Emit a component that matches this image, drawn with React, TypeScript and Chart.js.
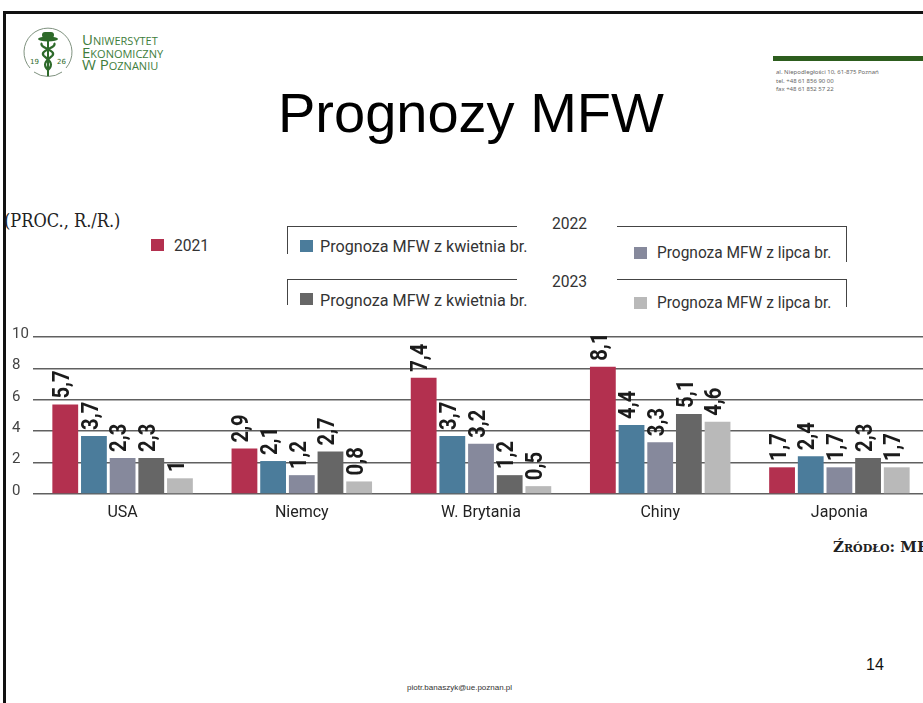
import React, { useEffect, useRef } from "react";
import { Chart, registerables } from "chart.js";

Chart.register(...registerables);

// ---- data ----
const categories = ["USA", "Niemcy", "W. Brytania", "Chiny", "Japonia"];
const seriesNames = [
  "2021",
  "2022 – Prognoza MFW z kwietnia br.",
  "2022 – Prognoza MFW z lipca br.",
  "2023 – Prognoza MFW z kwietnia br.",
  "2023 – Prognoza MFW z lipca br.",
];
const values2021 = [5.7, 2.9, 7.4, 8.1, 1.7];
const values2022Apr = [3.7, 2.1, 3.7, 4.4, 2.4];
const values2022Jul = [2.3, 1.2, 3.2, 3.3, 1.7];
const values2023Apr = [2.3, 2.7, 1.2, 5.1, 2.3];
const values2023Jul = [1, 0.8, 0.5, 4.6, 1.7];
const seriesColors = ["#b3304f", "#4b7c9b", "#86899c", "#666666", "#b9b9b9"];
const yTicks = [0, 2, 4, 6, 8, 10];
const legendYears = ["2022", "2023"];
const legendItemLabels = ["Prognoza MFW z kwietnia br.", "Prognoza MFW z lipca br."];
const firstLegendLabel = "2021";
const unitLabel = "(PROC., R./R.)";
const sourceLabel = "Źródło: MFW";
const titleText = "Prognozy MFW";
const uniLines = ["Uniwersytet", "Ekonomiczny", "W Poznaniu"];
const addressLines = [
  "al. Niepodległości 10, 61-875 Poznań",
  "tel. +48 61 856 90 00",
  "fax +48 61 852 57 22",
];
const footerEmail = "piotr.banaszyk@ue.poznan.pl";
const pageNumber = "14";

const allSeries = [values2021, values2022Apr, values2022Jul, values2023Apr, values2023Jul];

const barLabelsPlugin = {
  id: "barLabels",
  afterDatasetsDraw(chart: any) {
    const ctx = chart.ctx;
    chart.data.datasets.forEach((ds: any, di: number) => {
      const meta = chart.getDatasetMeta(di);
      meta.data.forEach((el: any, i: number) => {
        const v = ds.data[i];
        const txt = String(v).replace(".", ",");
        ctx.save();
        ctx.translate(el.x - 2, el.y - 6);
        ctx.rotate(-Math.PI / 2);
        ctx.scale(0.88, 1);
        ctx.font = "bold 23px Roboto, 'DejaVu Sans', sans-serif";
        ctx.fillStyle = "#1b1b1b";
        ctx.textAlign = "left";
        ctx.textBaseline = "middle";
        ctx.fillText(txt, 0, 0);
        ctx.restore();
      });
    });
  },
};

const yLabelsPlugin = {
  id: "yLabelsLeft",
  afterDraw(chart: any) {
    const ctx = chart.ctx;
    const ys = chart.scales.y;
    ctx.save();
    ctx.font = "15px Roboto, 'DejaVu Sans', sans-serif";
    ctx.fillStyle = "#444";
    ctx.textAlign = "left";
    ctx.textBaseline = "middle";
    yTicks.forEach((v) => {
      ctx.fillText(String(v), 12, ys.getPixelForValue(v) - 3);
    });
    ctx.restore();
  },
};

const CHART_TOP = 320;
const CANVAS_H = 215;
const CANVAS_W = 930;

function BarChart() {
  const ref = useRef<HTMLCanvasElement | null>(null);
  useEffect(() => {
    if (!ref.current) return;
    const chart = new Chart(ref.current, {
      type: "bar",
      data: {
        labels: categories,
        datasets: allSeries.map((vals, i) => ({
          label: seriesNames[i],
          data: vals,
          backgroundColor: seriesColors[i],
          borderWidth: 0,
          categoryPercentage: 0.8,
          barPercentage: 0.9,
        })),
      },
      options: {
        responsive: false,
        animation: false,
        devicePixelRatio: 1,
        layout: { padding: { left: 0, top: 17, right: 1, bottom: 0 } },
        plugins: {
          legend: { display: false },
          tooltip: { enabled: false },
          title: { display: false },
        },
        scales: {
          x: {
            grid: { display: false, drawTicks: false },
            border: { display: false },
            ticks: {
              color: "#222",
              padding: 9,
              maxRotation: 0,
              font: { family: "Roboto, 'DejaVu Sans', sans-serif", size: 16 },
            },
            afterFit: (s: any) => {
              s.height = 41;
            },
          },
          y: {
            min: 0,
            max: 10,
            grid: { color: "#606060", lineWidth: 1.5, drawTicks: false },
            border: { display: false },
            ticks: { display: false, stepSize: 2 },
            afterFit: (s: any) => {
              s.width = 33;
            },
          },
        },
      },
      plugins: [barLabelsPlugin, yLabelsPlugin],
    } as any);
    return () => chart.destroy();
  }, []);
  return (
    <canvas
      ref={ref}
      width={CANVAS_W}
      height={CANVAS_H}
      style={{ width: CANVAS_W, height: CANVAS_H, display: "block" }}
    />
  );
}

const abs = (o: React.CSSProperties): React.CSSProperties => ({ position: "absolute", ...o });

const legendFont: React.CSSProperties = {
  fontFamily: "Roboto, 'DejaVu Sans', sans-serif",
  fontSize: 17,
  color: "#333",
  whiteSpace: "nowrap",
  lineHeight: "20px",
  height: 20,
  transformOrigin: "left center",
};

function LegendText({ x, cy, text, sx }: { x: number; cy: number; text: string; sx?: number }) {
  return (
    <div style={abs({ left: x, top: cy - 10, ...legendFont, transform: `scaleX(${sx ?? 0.92})` })}>
      {text}
    </div>
  );
}
function Swatch({ x, y, color }: { x: number; y: number; color: string }) {
  return <div style={abs({ left: x, top: y, width: 13, height: 12, background: color })} />;
}
function HLine({ x1, x2, y }: { x1: number; x2: number; y: number }) {
  return <div style={abs({ left: x1, top: y, width: x2 - x1, height: 1.3, background: "#444" })} />;
}
function VLine({ x, y1, y2 }: { x: number; y1: number; y2: number }) {
  return <div style={abs({ left: x, top: y1, width: 1.3, height: y2 - y1, background: "#444" })} />;
}

function Bracket({ top, year, leftBottom, rightBottom, colorA, colorB, sqA, sqB, cyA, cyB, yearCy }: any) {
  return (
    <>
      <HLine x1={287} x2={517} y={top} />
      <VLine x={287} y1={top} y2={leftBottom} />
      <LegendText x={552} cy={yearCy} text={year} sx={0.92} />
      <HLine x1={617} x2={847} y={top} />
      <VLine x={846} y1={top} y2={rightBottom} />
      <Swatch x={300} y={sqA} color={colorA} />
      <LegendText x={320} cy={cyA} text={legendItemLabels[0]} sx={0.95} />
      <Swatch x={634} y={sqB} color={colorB} />
      <LegendText x={657} cy={cyB} text={legendItemLabels[1]} sx={0.91} />
    </>
  );
}

function Logo() {
  return (
    <svg style={abs({ left: 20, top: 24 })} width={56} height={56} viewBox="0 0 56 56">
      <path d="M 10 44 A 24 24 0 1 1 46 44" fill="none" stroke="#7f927f" strokeWidth={1} />
      <path d="M 14 48 A 24 24 0 0 0 42 48" fill="none" stroke="#7f927f" strokeWidth={1} />
      <ellipse cx={28} cy={15} rx={10} ry={2.5} fill="#2e6a2a" />
      <rect x={22} y={8} width={12} height={6} rx={3} fill="#2e6a2a" />
      <line x1={28} y1={15} x2={28} y2={52} stroke="#2e6a2a" strokeWidth={2} />
      <path
        d="M 22 19 C 18 24, 38 26, 32 32 C 26 37, 22 40, 28 46"
        fill="none"
        stroke="#2e6a2a"
        strokeWidth={2.2}
      />
      <path
        d="M 34 19 C 38 24, 18 26, 24 32 C 30 37, 34 40, 28 46"
        fill="none"
        stroke="#2e6a2a"
        strokeWidth={2.2}
      />
      <text x={10} y={40} fontSize={7} fill="#2e6a2a" fontFamily="'DejaVu Sans', sans-serif">
        19
      </text>
      <text x={37} y={40} fontSize={7} fill="#2e6a2a" fontFamily="'DejaVu Sans', sans-serif">
        26
      </text>
    </svg>
  );
}

export default function App() {
  return (
    <div
      style={{
        position: "absolute",
        left: 0,
        top: 0,
        width: 923,
        height: 703,
        overflow: "hidden",
        background: "#fff",
      }}
    >
      {/* slide borders */}
      <div style={abs({ left: 3, top: 11, width: 920, height: 3, background: "#111" })} />
      <div style={abs({ left: 3, top: 11, width: 3, height: 692, background: "#111" })} />

      {/* logo */}
      <Logo />
      {uniLines.map((t, i) => (
        <div
          key={t}
          style={abs({
            left: 82,
            top: 31 + i * 12.5,
            fontFamily: "'Open Sans', 'DejaVu Sans', sans-serif",
            fontSize: 15,
            lineHeight: "16px",
            fontVariant: "small-caps",
            color: "#3e7d3c",
            whiteSpace: "nowrap",
          })}
        >
          {t}
        </div>
      ))}

      {/* top-right band and address */}
      <div style={abs({ left: 773, top: 56, width: 150, height: 5, background: "#2d5d1e" })} />
      {addressLines.map((t, i) => (
        <div
          key={t}
          style={abs({
            left: 776,
            top: 68 + i * 8.5,
            fontFamily: "'Noto Sans', sans-serif",
            fontSize: 6,
            lineHeight: "8px",
            color: "#666",
            whiteSpace: "nowrap",
          })}
        >
          {t}
        </div>
      ))}

      {/* title */}
      <div
        style={abs({
          left: 278,
          top: 85,
          fontFamily: "'Liberation Sans', Arial, sans-serif",
          fontSize: 56,
          lineHeight: "56px",
          color: "#000",
          whiteSpace: "nowrap",
        })}
      >
        {titleText}
      </div>

      {/* unit label */}
      <div
        style={abs({
          left: 4,
          top: 209,
          fontFamily: "'DejaVu Serif', serif",
          fontSize: 18,
          lineHeight: "24px",
          color: "#222",
          whiteSpace: "nowrap",
          transform: "scaleX(0.9)",
          transformOrigin: "left center",
        })}
      >
        {unitLabel}
      </div>

      {/* legend */}
      <Swatch x={151} y={239} color={seriesColors[0]} />
      <LegendText x={174} cy={245} text={firstLegendLabel} sx={0.92} />
      <Bracket
        top={226}
        year={legendYears[0]}
        yearCy={223}
        leftBottom={254}
        rightBottom={262}
        colorA={seriesColors[1]}
        colorB={seriesColors[2]}
        sqA={240}
        sqB={247}
        cyA={246}
        cyB={252}
      />
      <Bracket
        top={279}
        year={legendYears[1]}
        yearCy={281}
        leftBottom={305}
        rightBottom={307}
        colorA={seriesColors[3]}
        colorB={seriesColors[4]}
        sqA={293}
        sqB={297}
        cyA={300}
        cyB={302}
      />

      {/* chart */}
      <div style={abs({ left: 0, top: CHART_TOP, width: 923, height: CANVAS_H, overflow: "hidden" })}>
        <BarChart />
      </div>

      {/* source */}
      <div
        style={abs({
          left: 833,
          top: 538,
          fontFamily: "'DejaVu Serif', serif",
          fontWeight: "bold",
          fontVariant: "small-caps",
          fontSize: 15,
          lineHeight: "18px",
          color: "#222",
          whiteSpace: "nowrap",
        })}
      >
        {sourceLabel}
      </div>

      {/* footer */}
      <div
        style={abs({
          left: 866,
          top: 656,
          fontFamily: "'Liberation Sans', Arial, sans-serif",
          fontSize: 16,
          lineHeight: "18px",
          color: "#111",
        })}
      >
        {pageNumber}
      </div>
      <div
        style={abs({
          left: 407,
          top: 683,
          fontFamily: "'Liberation Sans', Arial, sans-serif",
          fontSize: 8,
          lineHeight: "10px",
          color: "#333",
          whiteSpace: "nowrap",
        })}
      >
        {footerEmail}
      </div>
    </div>
  );
}
